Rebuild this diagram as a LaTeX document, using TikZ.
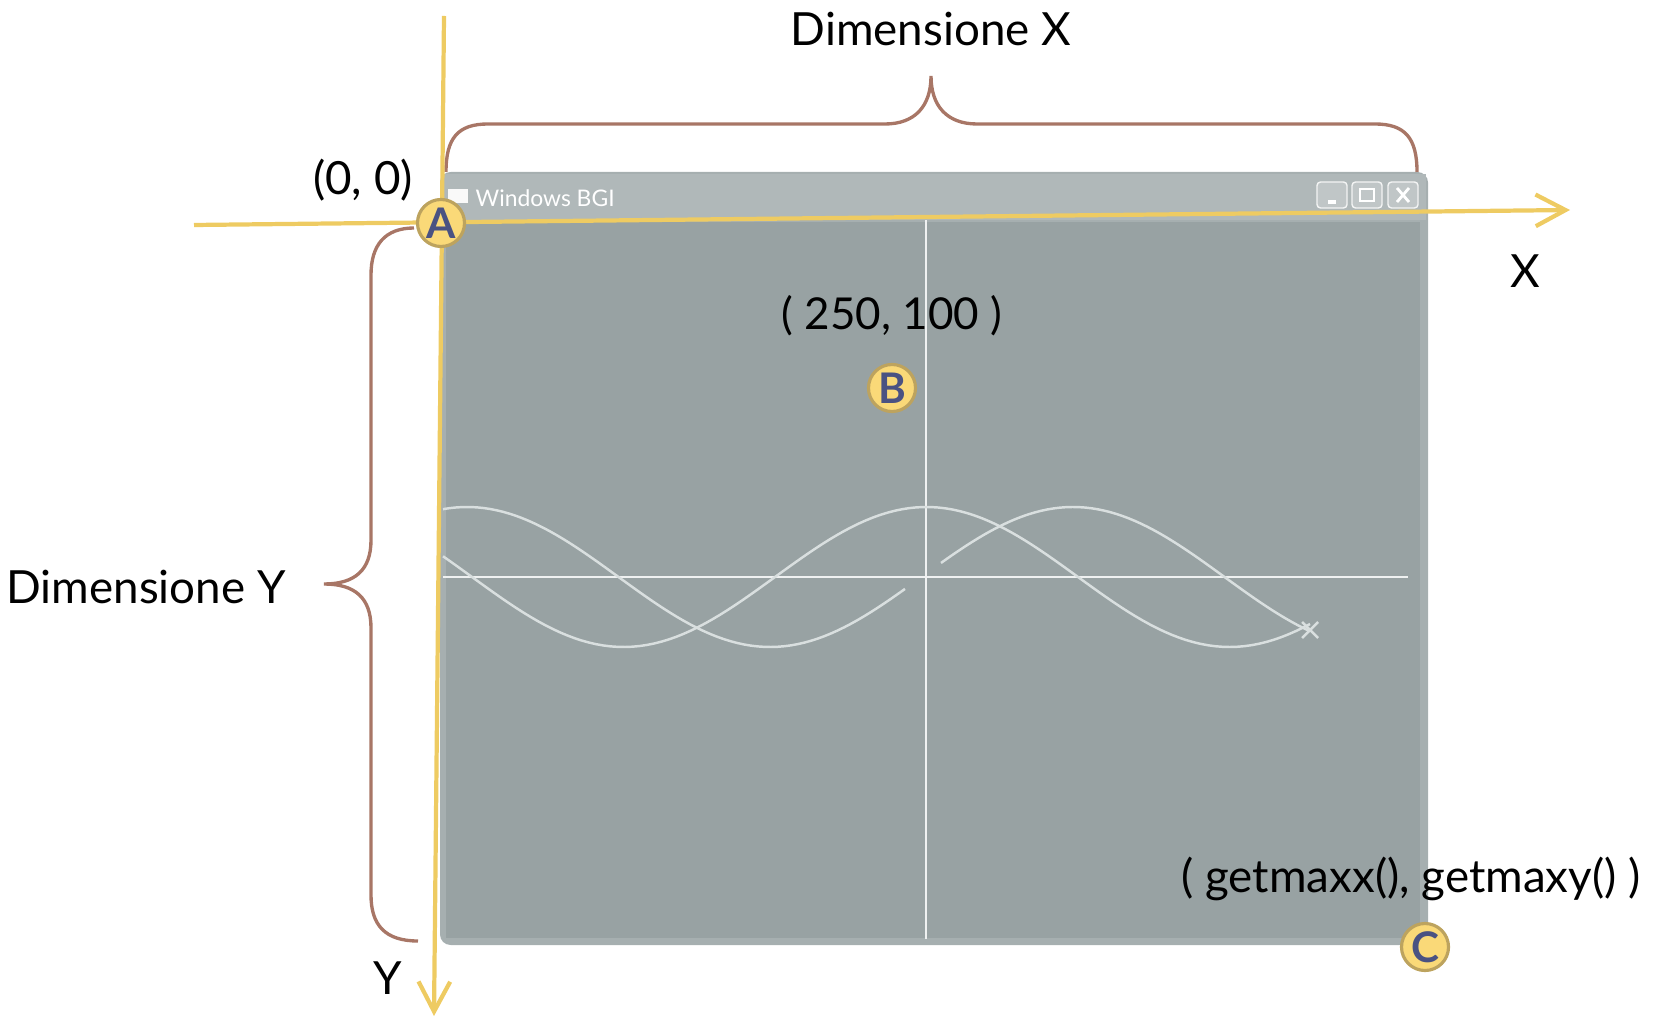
\documentclass[tikz,border=0pt]{standalone}
\usepackage{fontspec}
\setmainfont{Lato}
\usetikzlibrary{arrows.meta}
\definecolor{winframe}{HTML}{A6AFB0}
\definecolor{winbody}{HTML}{98A2A3}
\definecolor{wintitle}{HTML}{B0B8B9}
\definecolor{axisyellow}{HTML}{EECB62}
\definecolor{bracebrown}{HTML}{A87666}
\definecolor{badgefill}{HTML}{FAD978}
\definecolor{badgeedge}{HTML}{BDA35E}
\definecolor{badgetext}{HTML}{4A5282}
\definecolor{wavegrey}{HTML}{D9DFDF}
\begin{document}
\begin{tikzpicture}[x=0.01cm,y=-0.01cm,
    axis/.style={draw=axisyellow,line width=1.2pt,-{Straight Barb[length=8.5pt,width=9pt]}},
    lbl/.style={font=\fontsize{13}{16}\selectfont,text=black,inner sep=0pt},
    badge/.style={circle,fill=badgefill,draw=badgeedge,line width=0.9pt,minimum size=0.47cm,
      inner sep=0pt,text=badgetext,font=\fontsize{12}{12}\selectfont\bfseries},
    brace/.style={draw=bracebrown,line width=0.95pt},
    wave/.style={draw=wavegrey,line width=0.7pt},
    btn/.style={fill=wintitle!80!white,draw=white!85!wintitle,line width=0.4pt,rounded corners=1pt}]
  \useasboundingbox (0,0) rectangle (1664,1019);
  % window
  \fill[winframe,rounded corners=3pt] (440,172) rectangle (1428,945);
  \fill[wintitle] (442,174) rectangle (1426,220);
  \fill[winbody] (446,222) rectangle (1420,938);
  \fill[white!92!wintitle] (448,189) rectangle (468,203);
  \node[anchor=west,text=white,font=\fontsize{6.5}{7}\selectfont,inner sep=0pt] (title) at (475,198) {Windows BGI};
  \draw[btn] (1317,182) rectangle (1347,208);
  \draw[btn] (1352,182) rectangle (1382,208);
  \draw[btn] (1388,182) rectangle (1418,208);
  \draw[white,line width=1.2pt] (1328,202) -- (1336,202);
  \draw[white,line width=0.6pt] (1360,189) rectangle (1374,201);
  \draw[white,line width=0.8pt] (1397,188) -- (1409,202) (1397,202) -- (1409,188);
  % inner axes
  \draw[white!85!winbody,line width=0.6pt] (926,220) -- (926,939);
  \draw[white!85!winbody,line width=0.6pt] (443,577) -- (1408,577);
  % curves
  \draw[wave] plot[domain=443:1310,samples=120] (\x,{577+70*sin((\x-472)/606*360)});
  \draw[wave] plot[domain=443:905,samples=70] (\x,{577-70*cos((\x-467)/606*360)});
  \draw[wave] plot[domain=941:1310,samples=60] (\x,{577-70*cos((\x-467)/606*360)});
  \draw[wave] (1302,622) -- (1318,638) (1302,638) -- (1318,622);
  % braces
  \draw[brace] (446,172) .. controls (446,138) and (458,124) .. (488,124) -- (885,124)
    .. controls (915,124) and (931,106) .. (931,76)
    .. controls (931,106) and (947,124) .. (977,124) -- (1375,124)
    .. controls (1405,124) and (1417,138) .. (1417,172);
  \draw[brace] (414,228) .. controls (385,228) and (371,245) .. (371,275) -- (371,540)
    .. controls (371,570) and (355,584) .. (324,584)
    .. controls (355,584) and (371,598) .. (371,628) -- (371,895)
    .. controls (371,925) and (385,941) .. (418,941);
  % axes
  \coordinate (xfrom) at (194,225);
  \coordinate (xto) at (1570,210);
  \coordinate (yfrom) at (444,16);
  \coordinate (yto) at (434,1016);
  \draw[axis] (xfrom) -- (xto);
  \draw[axis] (yfrom) -- (yto);
  % points
  \node[badge] (A) at (441,223) {A};
  \node[badge] (B) at (892,388) {B};
  \node[badge] (C) at (1425,947) {C};
  % labels
  \node[lbl] (dimx) at (931,29) {Dimensione X};
  \node[lbl] (orig) at (363,180) {(0, 0)};
  \node[lbl] (xlab) at (1525,271) {X};
  \node[lbl,font=\fontsize{12.5}{16}\selectfont] (bpos) at (892,316) {( 250, 100 )};
  \node[lbl] (dimy) at (146,587) {Dimensione Y};
  \node[lbl] (cpos) at (1411,879) {( getmaxx(), getmaxy() )};
  \node[lbl] (ylab) at (388,978) {Y};
\end{tikzpicture}
\end{document}
